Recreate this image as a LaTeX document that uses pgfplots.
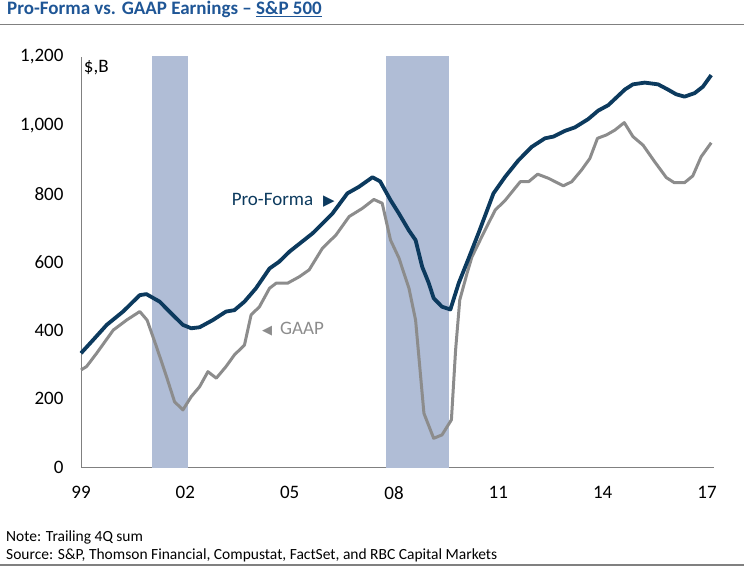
\documentclass[border=0pt]{standalone}
\usepackage{pgfplots}
\pgfplotsset{compat=1.18}
\usepackage{fontspec}
\setmainfont{Carlito}
\newfontfamily\symfont{DejaVu Sans}
\definecolor{navy}{RGB}{12,58,94}
\definecolor{gaap}{RGB}{140,140,140}
\definecolor{recess}{RGB}{176,189,214}
\definecolor{titleblue}{RGB}{31,86,150}
\definecolor{axisgray}{RGB}{128,128,128}
\begin{document}
\begin{tikzpicture}
\path[use as bounding box] (0pt,0pt) rectangle (744pt,570pt);
% title and rules
\node[anchor=base west, inner sep=0, text=titleblue, font=\fontsize{19}{22}\selectfont\bfseries] at (7pt,555pt) {Pro-Forma vs. GAAP Earnings -- \underline{S\&P 500}};
\draw[axisgray, line width=1pt] (0pt,545pt) -- (744pt,545pt);
\draw[axisgray, line width=1.2pt] (0pt,5pt) -- (744pt,5pt);
\node[anchor=base west, inner sep=0, font=\fontsize{15.5}{18}\selectfont] at (6pt,28pt) {Note: Trailing 4Q sum};
\node[anchor=base west, inner sep=0, font=\fontsize{15.5}{18}\selectfont] at (6pt,10pt) {Source: S\&P, Thomson Financial, Compustat, FactSet, and RBC Capital Markets};
\begin{axis}[
  at={(81pt,103pt)}, anchor=south west,
  scale only axis, width=633pt, height=410pt,
  xmin=1999, xmax=2017.2, ymin=0, ymax=1200,
  axis x line*=bottom, axis y line*=left,
  axis line style={axisgray, line width=0.9pt},
  major tick length=0pt,
  xtick={1999,2002,2005,2008,2011,2014,2017},
  xticklabels={99,02,05,08,11,14,17},
  ytick={0,200,400,600,800,1000,1200},
  /pgf/number format/assume math mode=true,
  /pgf/number format/1000 sep={,},
  ticklabel style={font=\fontsize{19}{22}\selectfont},
  yticklabel style={xshift=-14pt},
  xticklabel style={yshift=-16pt},
  clip=false,
]
\addplot[fill=recess, draw=none] coordinates {(2001.03,-3) (2002.09,-3) (2002.09,1203) (2001.03,1203)} -- cycle;
\addplot[fill=recess, draw=none] coordinates {(2007.77,-3) (2009.57,-3) (2009.57,1203) (2007.77,1203)} -- cycle;
\addplot[gaap, line width=3pt, line join=round] coordinates {
(1999.00,284) (1999.16,294) (1999.45,333) (1999.93,401) (2000.31,430) (2000.69,455)
(2000.90,430) (2001.17,352) (2001.46,264) (2001.69,191) (2001.93,167) (2002.17,206)
(2002.41,235) (2002.65,279) (2002.89,260) (2003.17,294) (2003.41,328) (2003.70,357)
(2003.89,445) (2004.13,469) (2004.42,523) (2004.61,538) (2004.94,538) (2005.28,557)
(2005.56,577) (2005.94,640) (2006.33,679) (2006.71,733) (2007.09,757) (2007.42,783)
(2007.66,772) (2007.90,664) (2008.14,612) (2008.43,523) (2008.62,430) (2008.86,157)
(2009.14,84) (2009.38,94) (2009.65,138) (2009.77,342) (2009.89,489) (2010.10,567)
(2010.24,615) (2010.62,694) (2010.91,752) (2011.20,781) (2011.63,835) (2011.87,835)
(2012.13,857) (2012.44,845) (2012.87,823) (2013.11,835) (2013.39,869) (2013.63,903)
(2013.85,962) (2014.11,972) (2014.35,986) (2014.62,1008) (2014.87,967) (2015.16,942)
(2015.49,894) (2015.83,847) (2016.06,832) (2016.35,832) (2016.59,852) (2016.83,908)
(2017.12,949)
};
\addplot[navy, line width=3.8pt, line join=round] coordinates {
(1999.00,333) (1999.35,372) (1999.74,416) (2000.21,455) (2000.69,503) (2000.88,506)
(2001.26,484) (2001.64,445) (2001.93,416) (2002.17,406) (2002.41,409) (2002.79,430)
(2003.17,455) (2003.41,459) (2003.70,484) (2004.03,523) (2004.42,581) (2004.70,601)
(2004.99,630) (2005.66,684) (2006.23,742) (2006.66,801) (2006.99,820) (2007.38,848)
(2007.60,836) (2007.90,781) (2008.14,742) (2008.43,692) (2008.62,664) (2008.81,586)
(2009.00,538) (2009.14,494) (2009.38,469) (2009.62,461) (2009.86,538) (2010.15,612)
(2010.45,690) (2010.86,801) (2011.20,850) (2011.58,898) (2011.96,937) (2012.34,962)
(2012.58,967) (2012.92,984) (2013.20,994) (2013.58,1018) (2013.87,1043) (2014.16,1059)
(2014.64,1105) (2014.87,1120) (2015.21,1125) (2015.59,1120) (2015.87,1105) (2016.11,1091)
(2016.35,1084) (2016.64,1094) (2016.88,1113) (2017.12,1147)
};
\node[anchor=west, inner sep=0, font=\fontsize{19}{22}\selectfont] at (axis cs:1999.08,1170) {\$,B};
\node[anchor=east, inner sep=0, text=navy, font=\fontsize{19}{22}\selectfont] at (axis cs:2006.30,781) {Pro-Forma\hspace{10pt}{\symfont\fontsize{15}{17}\selectfont ▶}};
\node[anchor=west, inner sep=0, text=gaap, font=\fontsize{19}{22}\selectfont] at (axis cs:2004.2,404) {{\symfont\fontsize{13}{15}\selectfont ◀}\hspace{8pt}GAAP};
\end{axis}
\end{tikzpicture}
\end{document}
